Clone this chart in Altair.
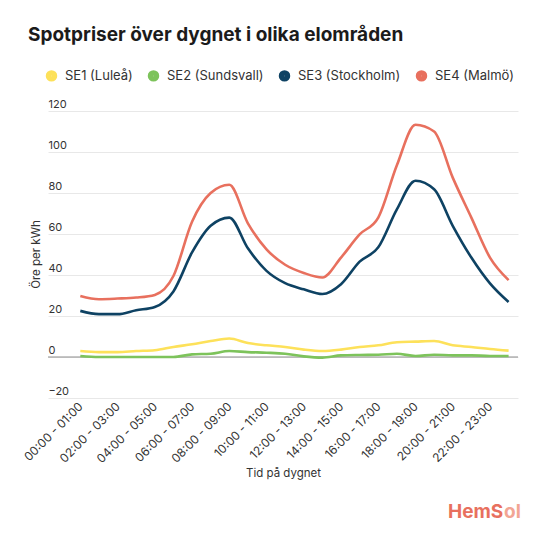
import altair as alt
import pandas as pd

hours = list(range(24))
tick_hours = list(range(0, 24, 2))
se1 = [2.9, 2.4, 2.4, 2.9, 3.3, 4.9, 6.2, 7.8, 9.0, 6.8, 5.7, 4.9, 3.6, 2.9, 3.6, 4.9, 5.7, 7.2, 7.5, 7.8, 5.7, 4.9, 3.9, 3.1]
se2 = [0.5, 0.0, 0.0, 0.0, 0.0, 0.0, 1.3, 1.6, 2.9, 2.4, 2.1, 1.6, 0.3, -0.3, 0.8, 1.0, 1.1, 1.6, 0.5, 1.1, 0.8, 0.8, 0.5, 0.5]
se3 = [22.5, 20.9, 20.9, 22.8, 24.4, 32.0, 51.0, 64.0, 68.0, 53.0, 42.0, 36.0, 33.0, 30.7, 35.5, 46.5, 53.5, 72.0, 86.0, 81.8, 64.0, 48.5, 35.9, 26.8]
se4 = [29.8, 28.2, 28.5, 29.0, 30.3, 39.5, 66.0, 80.0, 84.0, 65.2, 52.5, 45.0, 41.0, 38.8, 48.5, 59.8, 68.0, 93.5, 113.3, 110.0, 87.5, 68.0, 48.5, 37.5]

series = ["SE1 (Luleå)", "SE2 (Sundsvall)", "SE3 (Stockholm)", "SE4 (Malmö)"]
colors = ["#FDE15A", "#7DC35B", "#0E4263", "#E8705E"]

rows = []
for name, vals in zip(series, [se1, se2, se3, se4]):
    for h, v in zip(hours, vals):
        rows.append({"hour": h, "value": v, "area": name})
df = pd.DataFrame(rows)

FONT = "Inter"
TXT = "#333333"

x_enc = alt.X(
    "hour:Q",
    scale=alt.Scale(domain=[-1.735, 23.505], nice=False, zero=False),
    axis=alt.Axis(
        values=tick_hours,
        labelExpr="(datum.value < 10 ? '0' : '') + datum.value + ':00 - ' + (datum.value + 1 < 10 ? '0' : '') + (datum.value + 1) + ':00'",
        labelAngle=-45,
        labelAlign="right",
        labelBaseline="middle",
        labelPadding=6,
        labelOverlap=False,
        labelFontSize=12,
        labelColor=TXT,
        labelFont=FONT,
        domain=False,
        ticks=False,
        grid=False,
        title="Tid på dygnet",
        titleFont=FONT,
        titleFontSize=11.5,
        titleFontWeight="normal",
        titleColor=TXT,
        titlePadding=3,
    ),
)

y_enc = alt.Y(
    "value:Q",
    scale=alt.Scale(domain=[-20, 120], nice=False),
    axis=alt.Axis(
        values=[-20, 0, 20, 40, 60, 80, 100, 120],
        labelAlign="left",
        labelBaseline="bottom",
        labelPadding=0,
        labelOffset=-2,
        tickSize=0,
        ticks=False,
        domain=False,
        gridColor="#e8e8e8",
        labelFontSize=11,
        labelColor=TXT,
        labelFont=FONT,
        title="Öre per kWh",
        titleFont=FONT,
        titleFontSize=11.5,
        titleFontWeight="normal",
        titleColor=TXT,
        titleX=-12,
        titleY=143,
        titleBaseline="middle",
    ),
)

color_scale = alt.Scale(domain=series, range=colors)

lines = alt.Chart(df).mark_line(strokeWidth=2.6, interpolate="monotone").encode(
    x=x_enc,
    y=y_enc,
    stroke=alt.Stroke(
        "area:N",
        scale=color_scale,
        sort=series,
        legend=alt.Legend(
            title=None,
            orient="none",
            direction="horizontal",
            legendX=-3,
            legendY=-42,
            symbolType="circle",
            symbolSize=30,
            symbolStrokeWidth=6,
            symbolOpacity=1,
            labelFont=FONT,
            labelFontSize=13,
            labelColor=TXT,
            labelOffset=7,
            columnPadding=5,
        ),
    ),
)

zero = alt.Chart(pd.DataFrame({"z": [0]})).mark_rule(color="#8c8c8c", strokeWidth=1).encode(
    y=alt.Y("z:Q")
)

logo1 = alt.Chart(pd.DataFrame({"t": ["HemS"]})).mark_text(
    align="left", baseline="middle", font=FONT, fontSize=19, fontWeight="bold", color="#E8705E"
).encode(text="t:N", x=alt.value(400), y=alt.value(401))

logo2 = alt.Chart(pd.DataFrame({"t": ["ol"]})).mark_text(
    align="left", baseline="middle", font=FONT, fontSize=19, fontWeight="bold", color="#F2A594"
).encode(text="t:N", x=alt.value(456), y=alt.value(401))

chart = alt.layer(zero, lines, logo1, logo2).properties(
    width=470,
    height=287,
    padding={"left": 40, "top": 103, "right": 24, "bottom": 144},
    autosize=alt.AutoSizeParams(type="none"),
    title=alt.TitleParams(
        "Spotpriser över dygnet i olika elområden",
        anchor="start",
        frame="group",
        font=FONT,
        fontSize=19,
        fontWeight="bold",
        color="#1b1b1b",
        dx=-20,
        offset=24,
    ),
).configure_view(stroke=None)

chart.save("out.html", embed_options={"renderer": "svg", "actions": False})
